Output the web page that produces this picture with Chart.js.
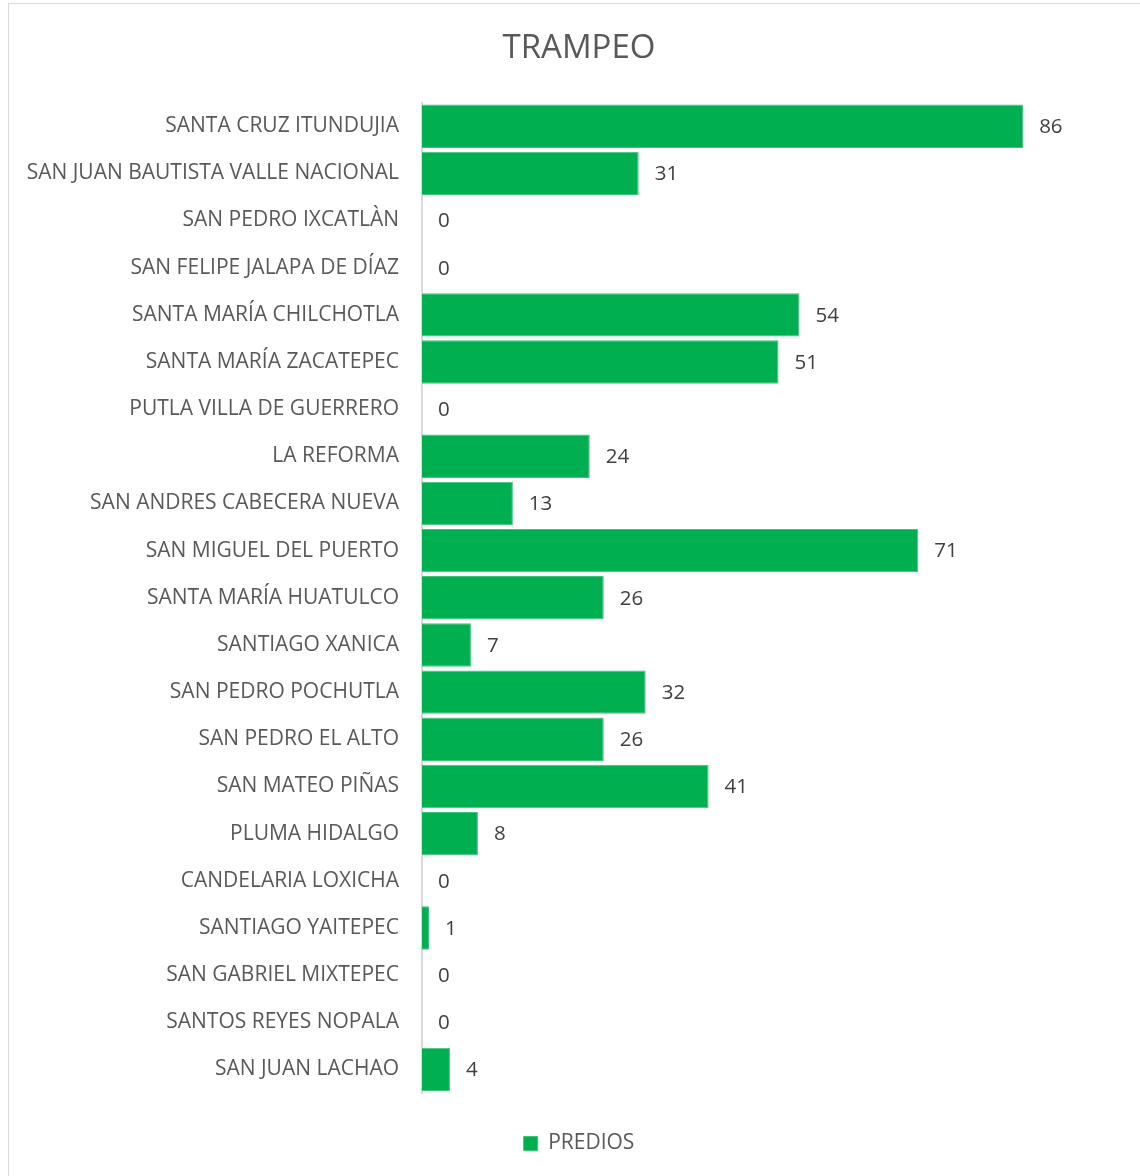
<!DOCTYPE html>
<html>
<head>
<meta charset="utf-8">
<script src="https://cdn.jsdelivr.net/npm/chart.js@4/dist/chart.umd.min.js"></script>
<style>
  body { margin: 0; background: #fff; overflow: hidden; }
  #frame { position: absolute; left: 8px; top: 3px; width: 1140px; height: 1180px; border: 1px solid #d9d9d9; box-sizing: border-box; }
  #wrap { position: absolute; left: 0; top: 0; width: 1140px; height: 1176px; }
</style>
</head>
<body>
<div id="frame"></div>
<div id="wrap"><canvas id="chart"></canvas></div>
<script>
// Chart data
const municipios = [
    'SANTA CRUZ ITUNDUJIA', 'SAN JUAN BAUTISTA VALLE NACIONAL', 'SAN PEDRO IXCATLÀN',
    'SAN FELIPE JALAPA DE DÍAZ', 'SANTA MARÍA CHILCHOTLA', 'SANTA MARÍA ZACATEPEC',
    'PUTLA VILLA DE GUERRERO', 'LA REFORMA', 'SAN ANDRES CABECERA NUEVA',
    'SAN MIGUEL DEL PUERTO', 'SANTA MARÍA HUATULCO', 'SANTIAGO XANICA',
    'SAN PEDRO POCHUTLA', 'SAN PEDRO EL ALTO', 'SAN MATEO PIÑAS', 'PLUMA HIDALGO',
    'CANDELARIA LOXICHA', 'SANTIAGO YAITEPEC', 'SAN GABRIEL MIXTEPEC',
    'SANTOS REYES NOPALA', 'SAN JUAN LACHAO'
];
const predios = [86, 31, 0, 0, 54, 51, 0, 24, 13, 71, 26, 7, 32, 26, 41, 8, 0, 1, 0, 0, 4];

const FONT = "'Open Sans', 'Noto Sans', sans-serif";

// Value labels at the end of each bar
const barLabels = {
    id: 'barLabels',
    afterDatasetsDraw(chart) {
        const ctx = chart.ctx;
        const meta = chart.getDatasetMeta(0);
        ctx.save();
        ctx.font = '20.5px ' + FONT;
        ctx.fillStyle = '#404040';
        ctx.textAlign = 'left';
        ctx.textBaseline = 'middle';
        meta.data.forEach((bar, i) => {
            ctx.fillText(String(predios[i]), bar.x + 16, bar.y + 1);
        });
        ctx.restore();
    }
};

// Long category names run past the left padding; let the labels use that space
const unclipLabels = {
    id: 'unclipLabels',
    beforeDraw(chart) {
        chart.scales.y.left = 0;
    }
};

new Chart(document.getElementById('chart'), {
    type: 'bar',
    data: {
        labels: municipios,
        datasets: [{
            label: 'PREDIOS',
            data: predios,
            backgroundColor: '#00b050',
            borderColor: '#3fc47c',
            borderWidth: 1,
            barPercentage: 0.92,
            categoryPercentage: 1
        }]
    },
    options: {
        indexAxis: 'y',
        responsive: true,
        maintainAspectRatio: false,
        animation: false,
        layout: { padding: { left: 37, right: 19, top: 0, bottom: 12 } },
        plugins: {
            title: {
                display: true,
                text: 'TRAMPEO',
                color: '#595959',
                font: { family: FONT, size: 33, weight: 'normal' },
                padding: { top: 29, bottom: 34 }
            },
            legend: {
                position: 'bottom',
                labels: {
                    color: '#595959',
                    font: { family: FONT, size: 21 },
                    boxWidth: 14,
                    boxHeight: 14,
                    padding: 10
                }
            },
            tooltip: { enabled: false }
        },
        scales: {
            x: {
                min: 0,
                max: 100,
                ticks: { display: false },
                grid: { display: false },
                border: { display: false },
                afterFit: (s) => { s.height = 30; }
            },
            y: {
                grid: { display: false },
                border: { display: true, color: '#d9d9d9', width: 2 },
                ticks: {
                    color: '#595959',
                    font: { family: FONT, size: 21 },
                    padding: 15,
                    autoSkip: false
                },
                afterFit: (s) => { s.width = 385; }
            }
        }
    },
    plugins: [barLabels, unclipLabels]
});
</script>
</body>
</html>
